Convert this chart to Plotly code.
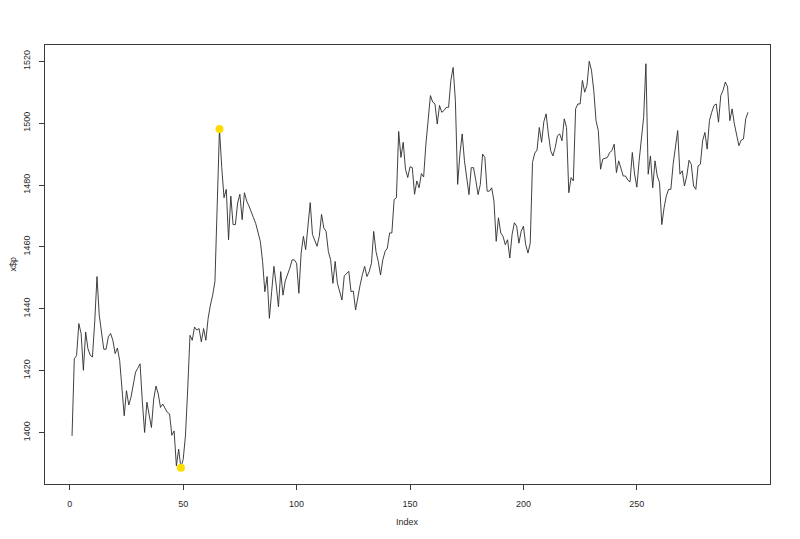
import plotly.graph_objects as go

# ---- data ----
p = [
    1398.9, 1423.8, 1424.9, 1435.2, 1432.0, 1420.1, 1432.5, 1427.1, 1425.0, 1424.4,   # 1-10
    1435.8, 1450.4, 1437.9, 1431.4, 1426.9, 1426.9, 1430.9, 1432.0, 1429.8, 1425.5,   # 11-20
    1427.3, 1423.3, 1414.1, 1405.4, 1413.5, 1408.9, 1411.4, 1415.7, 1419.5, 1420.8,   # 21-30
    1422.2, 1409.8, 1400.0, 1409.8, 1404.9, 1401.6, 1410.8, 1415.0, 1412.5, 1408.1,   # 31-40
    1409.2, 1407.6, 1406.5, 1406.0, 1399.1, 1400.5, 1389.2, 1394.6, 1388.6, 1391.3,   # 41-50
    1398.9, 1414.1, 1431.4, 1429.8, 1434.1, 1433.1, 1433.6, 1429.3, 1433.6, 1429.8,   # 51-60
    1436.9, 1441.2, 1444.4, 1448.8, 1474.8, 1498.1, 1485.6, 1475.9, 1478.6, 1462.3,   # 61-70
    1476.4, 1467.2, 1467.2, 1474.2, 1477.0, 1468.8, 1477.5, 1474.8, 1473.2, 1471.0,   # 71-80
    1469.4, 1467.5, 1465.0, 1461.8, 1455.3, 1445.5, 1450.4, 1436.9, 1445.5, 1453.7,   # 81-90
    1447.7, 1440.6, 1452.0, 1444.4, 1449.0, 1451.0, 1453.1, 1455.8, 1455.8, 1454.7,   # 91-100
    1445.0, 1458.0, 1463.4, 1459.1, 1466.1, 1474.3, 1464.0, 1462.3, 1460.2, 1463.4,   # 101-110
    1470.5, 1466.1, 1465.0, 1458.5, 1455.8, 1448.2, 1455.3, 1448.2, 1445.5, 1442.8,   # 111-120
    1450.6, 1451.2, 1452.1, 1445.5, 1445.7, 1439.6, 1444.4, 1447.7, 1451.0, 1453.7,   # 121-130
    1450.4, 1452.0, 1454.7, 1465.0, 1458.5, 1455.3, 1450.9, 1455.8, 1458.5, 1459.6,   # 131-140
    1464.5, 1464.5, 1475.3, 1475.9, 1497.3, 1488.9, 1493.8, 1485.1, 1482.4, 1485.9,   # 141-150
    1485.6, 1477.0, 1481.3, 1479.1, 1483.7, 1482.6, 1493.2, 1502.4, 1508.9, 1506.8,   # 151-160
    1506.2, 1499.7, 1505.7, 1503.5, 1504.1, 1505.1, 1505.1, 1513.8, 1518.0, 1507.3,   # 161-170
    1480.2, 1490.0, 1496.5, 1487.8, 1481.3, 1476.9, 1485.6, 1485.6, 1481.5, 1476.9,   # 171-180
    1480.2, 1490.0, 1488.9, 1478.0, 1478.0, 1479.1, 1474.8, 1461.8, 1469.4, 1464.5,   # 181-190
    1463.4, 1460.7, 1462.3, 1456.4, 1464.0, 1467.8, 1466.7, 1461.2, 1465.0, 1466.7,   # 191-200
    1460.7, 1458.0, 1461.2, 1487.3, 1490.3, 1491.3, 1498.6, 1493.8, 1500.5, 1503.0,   # 201-210
    1496.5, 1491.1, 1489.4, 1492.1, 1495.9, 1496.5, 1494.3, 1501.4, 1498.6, 1477.5,   # 211-220
    1482.4, 1481.3, 1504.6, 1506.2, 1506.2, 1513.8, 1510.0, 1512.2, 1520.0, 1517.1,   # 221-230
    1510.6, 1500.8, 1497.6, 1485.1, 1488.4, 1488.6, 1488.9, 1490.5, 1491.1, 1493.2,   # 231-240
    1484.0, 1487.8, 1485.6, 1482.9, 1482.9, 1481.6, 1481.0, 1490.5, 1483.5, 1479.3,   # 241-250
    1487.8, 1495.4, 1501.9, 1519.2, 1483.5, 1489.4, 1479.1, 1487.8, 1482.9, 1480.8,   # 251-260
    1467.2, 1472.6, 1476.5, 1478.6, 1478.6, 1486.7, 1492.7, 1497.6, 1483.5, 1484.6,   # 261-270
    1479.7, 1482.9, 1488.0, 1486.7, 1479.7, 1478.6, 1486.2, 1486.7, 1494.3, 1497.0,   # 271-280
    1491.6, 1500.8, 1503.5, 1505.7, 1506.2, 1500.3, 1508.9, 1510.6, 1513.3, 1511.7,   # 281-290
    1500.8, 1504.6, 1499.7, 1496.0, 1492.7, 1494.5, 1494.9, 1501.4, 1503.5,           # 291-299
]
index = list(range(1, len(p) + 1))

highlight_index = [49, 66]
highlight_value = [p[i - 1] for i in highlight_index]

x_ticks = [0, 50, 100, 150, 200, 250]
y_ticks = [1400, 1420, 1440, 1460, 1480, 1500, 1520]

x_title = "Index"
y_title = "x$p"

# R-style axis ranges (data range extended by 4% on each side)
def r_range(vals):
    lo, hi = min(vals), max(vals)
    d = (hi - lo) * 0.04
    return [lo - d, hi + d]

x_range = [r_range(index)[0], 308.7]

FONT = "Liberation Sans, Arial, sans-serif"
TXT = "#2a2a2a"

fig = go.Figure()
fig.add_trace(go.Scatter(
    x=index, y=p, mode="lines",
    line=dict(color="#2b2b2b", width=0.9),
    hoverinfo="x+y", showlegend=False,
))
fig.add_trace(go.Scatter(
    x=highlight_index, y=highlight_value, mode="markers",
    marker=dict(color="#FFDC00", size=8, line=dict(width=0)),
    showlegend=False,
))

axis_common = dict(
    showgrid=False, zeroline=False,
    showline=True, mirror=True, linecolor="#3a3a3a", linewidth=1,
    ticks="outside", ticklen=5, tickwidth=1, tickcolor="#3a3a3a",
    tickfont=dict(family=FONT, size=9, color=TXT),
)

fig.update_layout(
    width=800, height=539,
    margin=dict(l=37, r=38, t=37, b=63),
    paper_bgcolor="white", plot_bgcolor="white",
    font=dict(family=FONT, size=9, color=TXT),
    xaxis=dict(range=x_range, tickmode="array", tickvals=x_ticks,
               ticklabelstandoff=6, **axis_common),
    yaxis=dict(range=r_range(p), tickmode="array", tickvals=y_ticks,
               tickangle=-90, ticklabelstandoff=5, **axis_common),
    annotations=[
        dict(text=x_title, xref="paper", yref="paper", x=0.5, y=0,
             xanchor="center", yanchor="middle", yshift=-38, showarrow=False,
             font=dict(family=FONT, size=9, color=TXT)),
        dict(text=y_title, xref="paper", yref="paper", x=0, y=0.5,
             xanchor="center", yanchor="middle", xshift=-33, textangle=-90,
             showarrow=False, font=dict(family=FONT, size=9, color=TXT)),
    ],
)

fig.write_html("out.html")
